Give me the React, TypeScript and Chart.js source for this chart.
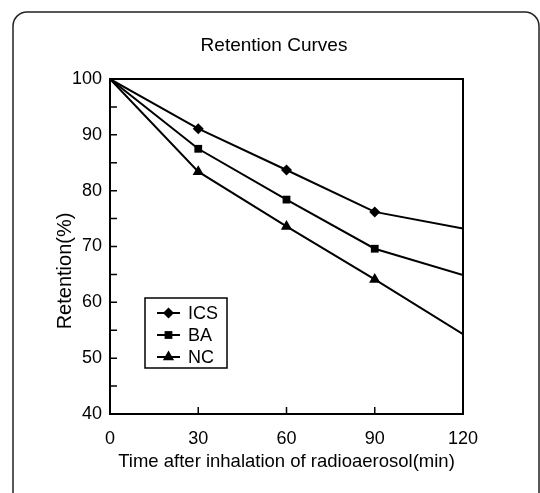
import React, { useEffect, useRef } from "react";
import { Chart, registerables } from "chart.js";

Chart.register(...registerables);

const times = [0, 30, 60, 90, 120];
const icsValues = [100, 91.1, 83.7, 76.2, 73.2];
const baValues = [100, 87.5, 78.4, 69.6, 64.9];
const ncValues = [100, 83.4, 73.6, 64.1, 54.3];
const seriesLabels = ["ICS", "BA", "NC"];
const seriesStyles = ["rectRot", "rect", "triangle"];
const chartTitle = "Retention Curves";
const xTitle = "Time after inhalation of radioaerosol(min)";
const yTitle = "Retention(%)";

const FONT = '"Liberation Sans", Arial, Helvetica, sans-serif';

function drawMarker(ctx: CanvasRenderingContext2D, style: string, x: number, y: number, r: number) {
  ctx.beginPath();
  if (style === "rectRot") {
    ctx.moveTo(x, y - r);
    ctx.lineTo(x + r, y);
    ctx.lineTo(x, y + r);
    ctx.lineTo(x - r, y);
  } else if (style === "rect") {
    const s = r * Math.SQRT1_2;
    ctx.rect(x - s, y - s, 2 * s, 2 * s);
  } else {
    const h = r * 1.5;
    ctx.moveTo(x, y - r);
    ctx.lineTo(x + r * 0.866, y + h - r);
    ctx.lineTo(x - r * 0.866, y + h - r);
  }
  ctx.closePath();
  ctx.fill();
}

const decorPlugin = {
  id: "decor",
  beforeDraw(chart: any) {
    const ctx = chart.ctx as CanvasRenderingContext2D;
    ctx.save();
    ctx.strokeStyle = "#222";
    ctx.lineWidth = 1.5;
    const l = 13, r = 539, t = 12, b = 500, rad = 14;
    ctx.beginPath();
    ctx.moveTo(l, b);
    ctx.lineTo(l, t + rad);
    ctx.arcTo(l, t, l + rad, t, rad);
    ctx.lineTo(r - rad, t);
    ctx.arcTo(r, t, r, t + rad, rad);
    ctx.lineTo(r, b);
    ctx.stroke();
    ctx.restore();
  },
  afterDraw(chart: any) {
    const ctx = chart.ctx as CanvasRenderingContext2D;
    const area = chart.chartArea;
    const xs = chart.scales.x;
    const ys = chart.scales.y;
    ctx.save();
    // plot box
    ctx.strokeStyle = "#000";
    ctx.lineWidth = 2;
    ctx.strokeRect(area.left, area.top, area.right - area.left, area.bottom - area.top);
    // inward ticks
    ctx.lineWidth = 1.5;
    ctx.beginPath();
    ys.ticks.forEach((t: any) => {
      const py = ys.getPixelForValue(t.value);
      ctx.moveTo(area.left, py);
      ctx.lineTo(area.left + 7, py);
    });
    xs.ticks.forEach((t: any) => {
      const px = xs.getPixelForValue(t.value);
      ctx.moveTo(px, area.bottom);
      ctx.lineTo(px, area.bottom - 7);
    });
    ctx.stroke();

    // titles
    ctx.fillStyle = "#000";
    ctx.textAlign = "center";
    ctx.textBaseline = "middle";
    ctx.font = `19px ${FONT}`;
    ctx.fillText(chartTitle, 274, 46);
    ctx.font = `18.5px ${FONT}`;
    ctx.fillText(xTitle, (area.left + area.right) / 2, 462);
    ctx.save();
    ctx.translate(65, 271);
    ctx.rotate(-Math.PI / 2);
    ctx.font = `20px ${FONT}`;
    ctx.fillText(yTitle, 0, 0);
    ctx.restore();

    // legend
    const lx = area.left + 35;
    const ly = area.top + 219;
    ctx.lineWidth = 1.5;
    ctx.strokeRect(lx, ly, 82, 70);
    chart.data.datasets.forEach((ds: any, i: number) => {
      const rowY = ly + 15 + i * 22;
      ctx.lineWidth = 2;
      ctx.beginPath();
      ctx.moveTo(lx + 12, rowY);
      ctx.lineTo(lx + 35, rowY);
      ctx.stroke();
      drawMarker(ctx, ds.pointStyle, lx + 23.5, rowY, i === 2 ? 6.5 : 5.5);
      ctx.textAlign = "left";
      ctx.font = `18px ${FONT}`;
      ctx.fillText(ds.label, lx + 43, rowY + 1);
    });
    ctx.restore();
  },
};

export default function App() {
  const ref = useRef<HTMLCanvasElement>(null);
  useEffect(() => {
    if (!ref.current) return;
    const series = [icsValues, baValues, ncValues];
    const chart = new Chart(ref.current, {
      type: "line",
      data: {
        datasets: series.map((vals, i) => ({
          label: seriesLabels[i],
          data: times.map((t, j) => ({ x: t, y: vals[j] })),
          borderColor: "#000",
          backgroundColor: "#000",
          borderWidth: 2,
          pointStyle: seriesStyles[i] as any,
          pointRadius: times.map((t, j) => (j === 0 || j === times.length - 1 ? 0 : i === 2 ? 6.5 : 5.5)),
          pointBorderWidth: 0,
          tension: 0,
          fill: false,
        })),
      },
      options: {
        animation: false,
        responsive: false,
        layout: { padding: { left: 0, top: 79, right: 77, bottom: 0 } },
        plugins: {
          legend: { display: false },
          title: { display: false },
          tooltip: { enabled: false },
        },
        scales: {
          x: {
            type: "linear",
            min: 0,
            max: 120,
            border: { display: false },
            grid: { display: false, drawTicks: false },
            ticks: {
              stepSize: 30,
              color: "#000",
              padding: 14,
              font: { family: FONT, size: 18 },
            },
            afterFit: (s: any) => {
              s.height = 79;
            },
          },
          y: {
            min: 40,
            max: 100,
            border: { display: false },
            grid: { display: false, drawTicks: false },
            ticks: {
              stepSize: 5,
              color: "#000",
              padding: 8,
              font: { family: FONT, size: 18 },
              callback: (v: any) => (Number(v) % 10 === 0 ? String(v) : ""),
            },
            afterFit: (s: any) => {
              s.width = 110;
            },
          },
        },
      },
      plugins: [decorPlugin],
    });
    return () => chart.destroy();
  }, []);
  return (
    <div style={{ position: "absolute", left: 0, top: 0, width: 540, height: 493, background: "#fff" }}>
      <canvas ref={ref} width={540} height={493} />
    </div>
  );
}
